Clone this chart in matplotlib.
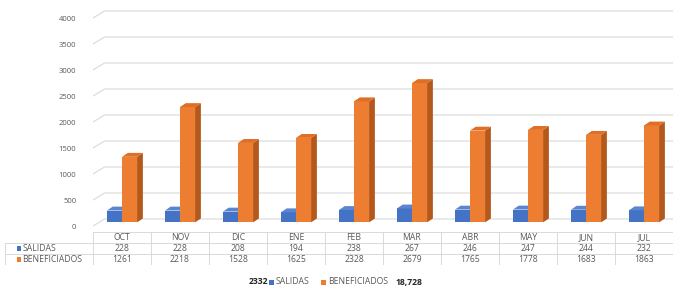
import matplotlib.pyplot as plt
from matplotlib.patches import Polygon, Rectangle

# datos
meses = ["OCT", "NOV", "DIC", "ENE", "FEB", "MAR", "ABR", "MAY", "JUN", "JUL"]
salidas = [228, 228, 208, 194, 238, 267, 246, 247, 244, 232]
beneficiados = [1261, 2218, 1528, 1625, 2328, 2679, 1765, 1778, 1683, 1863]
y_ticks = [0, 500, 1000, 1500, 2000, 2500, 3000, 3500, 4000]

azul = ("#4472C4", "#2F528F", "#5A86D0")      # frente, lado, tapa
naranja = ("#ED7D31", "#B5581C", "#E06F25")
gris_txt = "#595959"
gris_lin = "#D9D9D9"

plt.rcParams["font.family"] = ["Open Sans", "DejaVu Sans"]

W, H = 673, 293
fig = plt.figure(figsize=(W / 100, H / 100), dpi=100)


def px_box(x0, y0, x1, y1):
    return [x0 / W, 1 - y1 / H, (x1 - x0) / W, (y1 - y0) / H]


ax = fig.add_axes(px_box(93, 5, 673, 232))
ax.set_xlim(-0.5, 9.5)
ax.set_ylim(-115, 4250)
for s in ax.spines.values():
    s.set_visible(False)
ax.set_xticks([])
ax.set_yticks(y_ticks)
ax.set_yticklabels([str(v) for v in y_ticks], fontsize=5.5, color=gris_txt)
ax.tick_params(axis="y", length=0, pad=12)

# pared del fondo (perspectiva)
dxw, dyw = 0.2, 135
for v in y_ticks:
    ax.plot([-0.5, -0.5 + dxw, 9.5], [v, v + dyw, v + dyw], color=gris_lin, lw=0.8, zorder=0)

# barras 3D falsas
x = list(range(len(meses)))
w = 0.26
dx, dy = 0.1, 75
base = 70


def barras_3d(xs, vals, cols):
    bars = ax.bar(xs, vals, width=w, bottom=base, align="edge", color=cols[0], zorder=2)
    for b in bars:
        x0, y0 = b.get_x(), b.get_y()
        x1, y1 = x0 + b.get_width(), y0 + b.get_height()
        ax.add_patch(Polygon([(x1, y0), (x1 + dx, y0 + dy), (x1 + dx, y1 + dy), (x1, y1)],
                             closed=True, fc=cols[1], ec="none", zorder=2))
        ax.add_patch(Polygon([(x0, y1), (x0 + dx, y1 + dy), (x1 + dx, y1 + dy), (x1, y1)],
                             closed=True, fc=cols[2], ec="none", zorder=2))


barras_3d([i - w for i in x], salidas, azul)
barras_3d(x, beneficiados, naranja)

# tabla de datos
tx0 = 5
tax = fig.add_axes(px_box(tx0, 232, 673, 265))
tax.set_xlim(-0.5 - (93 - tx0) / 58.0, 9.5)
tax.set_ylim(3, 0)
tax.axis("off")
xl = tax.get_xlim()[0]
fs_t = 6.2
# lineas horizontales
tax.plot([-0.5, 9.5], [0, 0], color=gris_lin, lw=0.7)
for r in (1, 2, 3):
    tax.plot([xl, 9.5], [r, r], color=gris_lin, lw=0.7)
# lineas verticales
for i in range(len(meses) + 1):
    tax.plot([i - 0.5, i - 0.5], [0, 3], color=gris_lin, lw=0.7)
tax.plot([xl, xl], [1, 3], color=gris_lin, lw=0.7)
for i, m in enumerate(meses):
    tax.text(i, 0.5, m, ha="center", va="center", fontsize=fs_t, color=gris_txt)
    tax.text(i, 1.5, str(salidas[i]), ha="center", va="center", fontsize=fs_t, color=gris_txt)
    tax.text(i, 2.5, str(beneficiados[i]), ha="center", va="center", fontsize=fs_t, color=gris_txt)
for r, (nom, col) in enumerate([("SALIDAS", azul[0]), ("BENEFICIADOS", naranja[0])]):
    tax.add_patch(Rectangle((xl + 0.2, r + 1.3), 0.08, 0.4, fc=col, ec="none"))
    tax.text(xl + 0.3, r + 1.5, nom, ha="left", va="center", fontsize=fs_t, color=gris_txt)

# totales / leyenda inferior
yl = 1 - 282 / H
fig.text(268 / W, yl, f"{sum(salidas)}", ha="right", va="center", fontsize=6.2, fontweight="bold", color="#262626")
fig.patches.append(Rectangle((269 / W, yl - 2.5 / H), 5 / W, 5 / H, fc=azul[0], ec="none",
                             transform=fig.transFigure, figure=fig))
fig.text(276 / W, yl, "SALIDAS", ha="left", va="center", fontsize=6.2, color=gris_txt)
fig.patches.append(Rectangle((321 / W, yl - 2.5 / H), 5 / W, 5 / H, fc=naranja[0], ec="none",
                             transform=fig.transFigure, figure=fig))
fig.text(328 / W, yl, "BENEFICIADOS", ha="left", va="center", fontsize=6.2, color=gris_txt)
fig.text(396 / W, yl, f"{sum(beneficiados):,}", ha="left", va="center", fontsize=6.2,
         fontweight="bold", color="#262626")

fig.savefig("out.png", dpi=100, facecolor="white")
